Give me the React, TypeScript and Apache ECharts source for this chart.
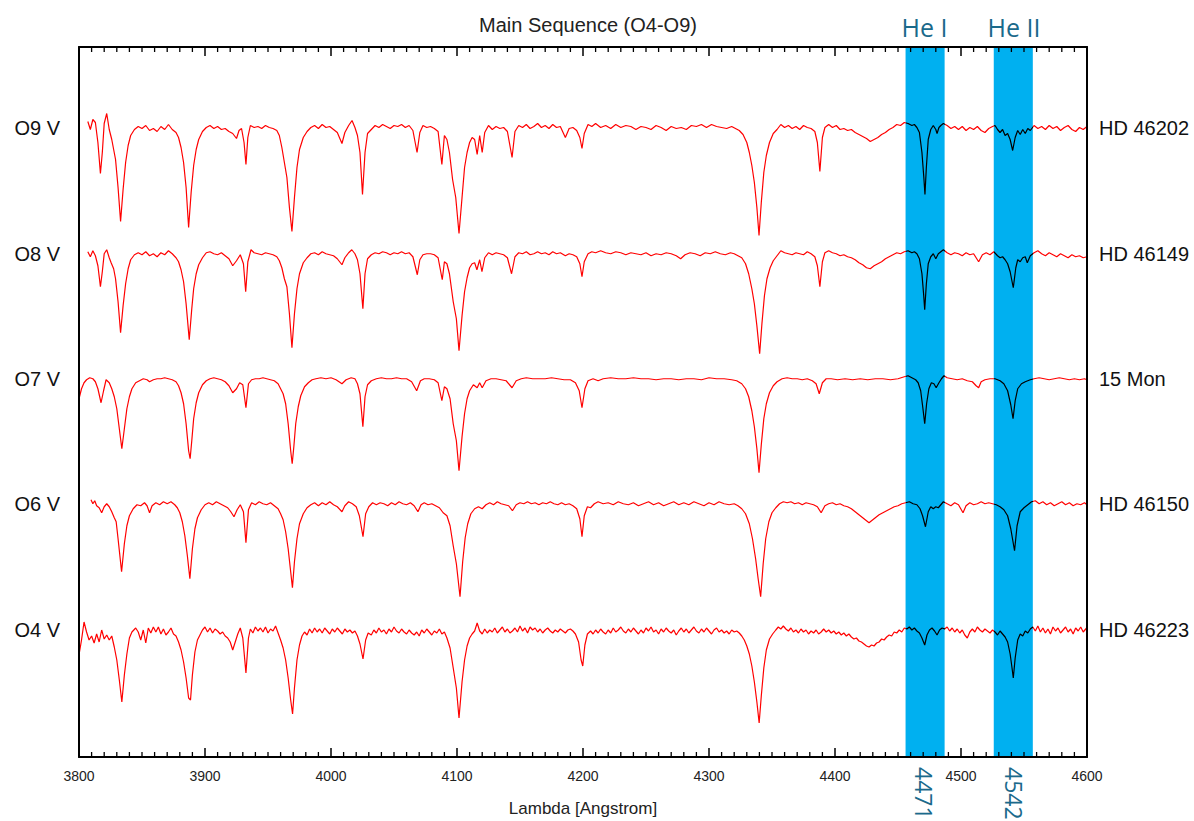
import React, { useEffect, useRef } from "react";
import * as echarts from "echarts";

// ---- axis / layout values ----
const X_MIN = 3800;
const X_MAX = 4600;
const X_STEP = 100;
const X_MINOR_STEP = 10;
const Y_MIN = 49.2;
const Y_MAX = 333.2;

// ---- spectra labels ----
const spectralClasses = ["O9 V", "O8 V", "O7 V", "O6 V", "O4 V"];
const starNames = ["HD 46202", "HD 46149", "15 Mon", "HD 46150", "HD 46223"];
// vertical offset of each normalised spectrum (flux in % of continuum)
const offsets = [201, 150.5, 100.5, 50.5, 0];

// ---- highlighted helium lines ----
const heLineNames = ["He I", "He II"];
const heLineCenters = [4471, 4542];
const heBands = [
  [4456, 4487],
  [4526, 4557],
];

// ---- normalised fluxes [wavelength (A), flux % of continuum] ----
const fluxO9: number[][] = [
  [3807,102.4],[3809,99.2],[3811,103.2],[3813,102],[3815,94],[3817,81.6],[3818.5,90],[3820,101.6],[3822,105.6],[3824,99.2],
  [3826,95.2],[3827.5,91.2],[3829,87.2],[3831,76],[3833,62.4],[3835,75.2],[3837,86],[3839,92.8],[3841,96.8],[3844,99.2],
  [3847,100.4],[3850,99.6],[3853,100.8],[3856,98.8],[3859,99.6],[3862,98.4],[3865,100.4],[3868,99.2],[3871,101.2],[3874,99.2],
  [3877,98],[3879,96],[3881,92],[3883,86],[3885,76],[3887,60],[3889,74],[3891,84.8],[3893,91.2],[3895,95.2],
  [3898,98.4],[3901,100],[3904,100.8],[3907,99.6],[3910,100.4],[3913,99.2],[3916,99.6],[3919,98.4],[3922,97.6],[3925,95.6],
  [3927,98.8],[3929,99.6],[3931,94],[3932.5,85.2],[3934,96],[3936,100.8],[3939,100],[3942,100.4],[3945,99.6],[3948,100.8],
  [3951,100],[3954,99.6],[3957,98.8],[3959,96.8],[3961,92],[3963,86],[3965,80],[3967,68],[3969,58.4],[3971,72],
  [3973,84],[3975,91.2],[3978,96],[3981,98.4],[3984,100],[3987,100.8],[3990,99.6],[3993,101.2],[3996,100],[3999,100.4],
  [4002,99.2],[4005,98],[4008.7,93.6],[4011,98],[4014,100.8],[4016.7,102.8],[4019,100],[4021,96.8],[4023,90],[4025,73.2],
  [4027,90],[4029,97.6],[4032,99.2],[4035,100.8],[4038,100],[4041,101.2],[4044,100.4],[4047,99.6],[4050,100.8],[4053,100.4],
  [4056,101.2],[4059,100],[4062,100.8],[4065,98.8],[4068.3,90],[4070.5,98],[4073,100.8],[4076,100],[4079,100.4],[4082,99.6],
  [4085,98.4],[4088,85.2],[4090,96.8],[4092,95.2],[4094,90],[4096.5,79.2],[4099,72],[4101.6,57.6],[4104,72],[4106,84],
  [4108,90],[4110,94],[4112,96],[4114,95.2],[4116,89.2],[4118,96.8],[4120,90],[4122,98],[4125,100.8],[4128,99.2],
  [4131,100.4],[4134,99.6],[4137,100],[4140,98.4],[4143.7,88],[4146,98.4],[4149,100.8],[4152,100],[4155,101.2],[4158,99.6],
  [4161,100.4],[4164,101.6],[4167,100],[4170,100.8],[4173,99.6],[4176,101.2],[4179,100],[4182,100.4],[4186,96],[4189,99.6],
  [4192,100],[4195,98.8],[4197.5,96],[4199.2,91.6],[4201,97.6],[4204,101.2],[4207,100.4],[4210,101.6],[4214,100],[4218,100.8],
  [4222,99.6],[4226,101.2],[4230,100],[4234,100.8],[4238,100.4],[4242,99.2],[4246,100.4],[4250,100],[4254,99.2],[4258,100.8],
  [4262,100],[4266,98.8],[4270,100.4],[4274,99.6],[4278,100],[4282,99.2],[4286,100.8],[4290,100.4],[4294,101.2],[4298,100],
  [4302,101.2],[4306,100.4],[4310,100],[4314,99.6],[4318,100.4],[4321,99.6],[4324,98.8],[4327,97.2],[4330,94],[4332,90],
  [4334,84.8],[4336,78],[4338,68],[4339.7,56.8],[4341.5,70],[4343.5,82],[4345.5,88.8],[4348,94],[4351,97.6],[4354,99.2],
  [4357,101.2],[4360,100],[4363,100.8],[4366,99.6],[4369,100.4],[4372,99.2],[4375,100.8],[4378,100],[4381,99.6],[4384,98.4],
  [4386,94],[4388,82.4],[4390,96],[4392,100],[4395,101.2],[4398,100],[4401,100.8],[4404,99.2],[4407,99.6],[4410,98.8],
  [4413,99.2],[4416,98],[4419,97.2],[4422,96.4],[4425,95.6],[4428,94.4],[4431,95.2],[4434,96],[4437,97.2],[4440,98],
  [4443,99.2],[4446,100],[4449,101.2],[4452,100.8],[4455,102],[4458,101.6],[4461,100.8],[4463,101.2],[4465,100],[4467,98],
  [4469,90],[4470.5,80],[4471.4,73.2],[4472.5,84],[4474,95.2],[4476,99.2],[4478,100.8],[4480,99.2],[4481,97.6],[4482.5,100],
  [4484,100.8],[4486,101.6],[4489,100.8],[4492,99.6],[4495,100.4],[4498,99.2],[4501,100.4],[4504,98.8],[4507,100],[4510,99.2],
  [4513,100.4],[4516,98.8],[4519,98],[4522,99.6],[4525,100.4],[4527,100.8],[4529,99.2],[4531,98],[4533,99.2],[4535,96.8],
  [4537,97.6],[4539,95.2],[4541,90.8],[4543,96],[4545,98.8],[4547,97.2],[4549,99.2],[4551,97.6],[4553,99.6],[4555,98.8],
  [4558,100.8],[4561,99.6],[4564,100.4],[4567,99.2],[4570,100.8],[4573,99.6],[4576,100.4],[4579,98.8],[4582,100],[4585,100.8],
  [4588,99.2],[4591,98.4],[4594,100],[4597,99.2],[4600,100.4],
];

const fluxO8: number[][] = [
  [3807,100.8],[3809,98.8],[3811,101.2],[3813,99.2],[3815,95.2],[3817,86.8],[3818.5,92.8],[3820,100],[3822,101.6],[3824,98.4],
  [3825.5,96.4],[3827.5,94],[3829,90],[3831,80.8],[3833,68.4],[3835,79.2],[3837,88],[3839,94],[3841,97.6],[3844,99.6],
  [3847,100.4],[3850,99.6],[3853,100.8],[3856,99.2],[3859,100],[3862,98.8],[3865,100.4],[3868,99.6],[3871,101.2],[3874,100],
  [3877,98.4],[3879,96.8],[3881,93.6],[3883,88.8],[3885,80],[3887.5,65.6],[3889.5,78],[3891,86],[3893,92],[3895,95.6],
  [3898,98.4],[3901,100.4],[3904,100.8],[3907,100],[3910,99.6],[3913,100.4],[3916,99.2],[3919,98],[3922,95.2],[3925,97.2],
  [3928,99.6],[3930.5,96],[3932.3,84.8],[3934,96.8],[3936.5,101.6],[3939,100.4],[3942,100],[3945,99.6],[3948,100.4],[3951,100],
  [3954,99.6],[3957,98.8],[3959,97.2],[3961,94.4],[3963,90],[3965,86.8],[3967,76],[3969,62.4],[3971,76],[3973,86],
  [3975,92],[3978,96.4],[3981,98.4],[3984,100],[3987,100.4],[3990,99.6],[3993,100.8],[3996,100],[3999,99.6],[4002,99.2],
  [4005,98],[4008.7,95.6],[4011,98.4],[4014,100.4],[4016.5,101.6],[4019,100],[4021,97.6],[4023,92],[4025.3,78],[4027,92],
  [4029,98],[4032,99.6],[4035,100.4],[4038,100],[4041,100.8],[4044,100.4],[4047,99.6],[4050,100.4],[4053,100],[4056,100.8],
  [4059,100],[4062,100.4],[4065,98.8],[4068.5,91.6],[4070.5,97.6],[4073,99.6],[4076,100],[4079,100],[4082,99.6],[4085,98.4],
  [4088.3,89.6],[4090,96.8],[4092,96],[4094,92],[4097,80.8],[4099.5,74],[4101.6,61.2],[4104,75.2],[4106,84.8],[4108,90.4],
  [4110,94.4],[4112,96],[4114,96.4],[4115.8,93.6],[4118,97.6],[4119.8,92.8],[4122,98.4],[4125,100.4],[4128,99.6],[4131,100.4],
  [4134,100],[4137,99.6],[4140,98.4],[4143.3,92],[4146,98.8],[4149,100.4],[4152,100],[4155,100.8],[4158,99.6],[4161,100],
  [4164,100.8],[4167,100],[4170,100.4],[4173,99.6],[4176,100.8],[4179,100],[4182,100.4],[4186,99.2],[4189,100],[4192,99.6],
  [4195,98.8],[4197.5,96],[4199.2,90.8],[4201,96.8],[4204,100],[4207,100.8],[4210,100.4],[4214,101.2],[4218,100.4],[4222,100],
  [4226,100.8],[4230,100.4],[4234,99.6],[4238,100.4],[4242,100],[4246,99.6],[4250,100.4],[4254,99.2],[4258,100],[4262,99.6],
  [4266,100.4],[4270,100],[4274,99.2],[4277.5,98],[4281,99.6],[4285,100.4],[4289,100],[4293,99.2],[4297,100.4],[4301,100],
  [4305,100.8],[4309,100],[4313,99.6],[4317,100.4],[4320,100],[4323,99.2],[4326,98.4],[4329,96],[4331.5,92],[4334,86],
  [4336,80],[4338,71.2],[4340.2,60],[4342,72],[4344,83.2],[4346,90],[4348.5,94.4],[4351,97.2],[4354,99.2],[4357,101.2],
  [4360,100.4],[4363,100],[4366,99.6],[4369,100.4],[4372,100],[4375,99.6],[4378,100.8],[4381,100],[4384,98.8],[4386,95.2],
  [4388,86.8],[4390,96.8],[4392,100.4],[4395,101.2],[4398,100.4],[4401,100],[4404,99.2],[4407,99.6],[4410,98.8],[4413,98.4],
  [4416,97.6],[4419,96.4],[4422,95.6],[4425,94.4],[4428,94],[4431,95.2],[4434,96],[4437,96.8],[4440,98],[4443,98.8],
  [4446,99.6],[4449,100.4],[4452,100],[4455,100.8],[4458,101.2],[4461,100.4],[4463,100.8],[4465,100],[4467,98],[4469,92],
  [4470.3,84],[4471.2,77.6],[4472.5,88],[4474,96],[4476,98.8],[4478,100],[4480,98],[4482,100],[4484,100.8],[4486,101.6],
  [4489,100.4],[4492,99.6],[4495,100.4],[4498,100],[4501,99.2],[4504,100.4],[4507,99.6],[4510,100],[4514,96.8],[4517,99.6],
  [4520,100.4],[4523,99.6],[4526,100.8],[4529,99.2],[4531,98.4],[4533,98.8],[4535,97.6],[4537,96],[4539,92.8],[4541.5,86.4],
  [4543.5,94.4],[4545,97.6],[4547,96.8],[4549,98.4],[4551,98.8],[4552.6,96.4],[4555,99.2],[4558,100.4],[4561,101.2],[4564,100],
  [4567,99.2],[4570,100.4],[4573,99.6],[4576,98.8],[4579,100],[4582,99.2],[4585,98.4],[4588,99.6],[4591,98.8],[4594,99.2],
  [4597,98.4],[4600,98.8],
];

const fluxO7: number[][] = [
  [3800,92],[3802,96],[3804,98.4],[3806,99.6],[3808.5,100.4],[3811,100],[3813,98.8],[3815,96],[3817.5,90.4],[3819.5,95.2],
  [3821.5,99.6],[3824,98.4],[3826,96],[3828,92.8],[3830,88],[3832,80],[3834,72],[3836,80],[3838,88],[3840,92.8],
  [3842,96],[3845,98.4],[3848,99.2],[3851,100],[3854,99.6],[3856,98.8],[3859,99.6],[3862,100],[3865,100],[3868,100.4],
  [3871,100],[3874,99.6],[3877,98.8],[3879,97.2],[3881,94.4],[3883,90],[3885,82],[3887,71.2],[3888.2,68],[3889.5,75.2],
  [3891,84],[3893,90.4],[3895,94.4],[3898,97.6],[3901,99.2],[3904,100],[3907,100.4],[3910,100],[3913,99.6],[3916,98.8],
  [3919,97.2],[3922,94.4],[3925,96],[3927.5,98.4],[3930,97.6],[3932.5,88.4],[3934.5,98],[3937,99.6],[3940,100],[3943,100],
  [3946,100.4],[3949,100],[3952,99.6],[3955,99.2],[3958,98],[3960,96],[3962,94],[3964,90],[3966,82],[3968,71.2],
  [3969.2,66],[3970.5,72.8],[3972,82],[3974,88.8],[3976,93.2],[3979,96.8],[3982,98.4],[3985,99.6],[3988,100],[3992,100.4],
  [3996,100],[4000,100.4],[4004,99.6],[4008.7,98],[4012,99.6],[4016,100.4],[4019,100],[4021,98],[4023,94],[4025.3,80.8],
  [4027,92.8],[4029,97.6],[4032,99.2],[4036,100],[4040,100.4],[4044,100],[4048,100],[4052,100.4],[4056,100],[4060,100],
  [4064,98.8],[4068,95.2],[4071,99.2],[4074,100],[4078,100],[4082,99.6],[4085,98.4],[4088,91.2],[4090,96.8],[4092,96],
  [4094.5,92],[4097,82],[4099.5,75.2],[4101.6,63.2],[4104,76.8],[4106,86],[4108,92],[4110,95.2],[4113,97.6],[4116,96.4],
  [4118,98.4],[4120,96.4],[4123,99.2],[4127,100],[4131,100],[4135,99.6],[4139,99.2],[4143.7,96.4],[4147,99.2],[4151,100],
  [4155,100.4],[4160,100],[4165,100],[4170,100],[4175,100.4],[4180,100],[4185,99.6],[4190,99.6],[4194,98.4],[4197,95.2],
  [4199.2,88.4],[4201.5,96],[4204,99.2],[4208,100],[4212,99.2],[4216,100],[4222,100.4],[4228,100],[4234,100],[4240,100.4],
  [4246,100],[4252,100],[4258,99.6],[4264,100],[4270,100],[4276,99.6],[4282,100],[4288,100],[4294,99.6],[4300,100.4],
  [4306,100],[4312,100],[4318,99.6],[4322,99.2],[4326,98],[4329,96],[4331.5,92.8],[4334,87.2],[4336,80.8],[4338,72],
  [4339.7,62.4],[4341.5,73.6],[4343.5,84],[4345.5,90],[4348,94.4],[4351,97.2],[4354,98.8],[4358,100],[4362,100.4],[4366,100],
  [4370,100],[4374,99.6],[4378,100],[4382,99.2],[4385,98],[4387.5,94],[4390,98.4],[4393,100],[4397,100],[4402,99.6],
  [4408,100],[4414,99.6],[4420,100],[4426,99.6],[4432,100],[4438,100],[4444,99.6],[4450,100],[4455,100.8],[4458,101.2],
  [4461,100.4],[4464,99.6],[4466,98.4],[4468,95.2],[4469.8,88],[4471.2,82],[4472.7,90],[4474.5,96],[4476.5,98.4],[4478.5,98],
  [4480.3,96.4],[4482.5,98.4],[4484.5,100],[4486.5,101.2],[4489,100.4],[4493,100],[4497,99.6],[4501,100],[4505,99.2],[4509,98.8],
  [4512,97.2],[4514,96.4],[4516,98.8],[4519,99.6],[4523,100],[4527,100],[4531,99.2],[4534,98],[4537,95.2],[4539.5,89.6],
  [4541.3,84],[4543,91.2],[4545,96],[4548,98],[4551,98.8],[4555,99.6],[4558,100],[4562,100.4],[4566,100],[4570,99.6],
  [4574,100],[4578,100.4],[4582,100],[4586,99.6],[4590,100],[4594,99.6],[4598,100],[4600,99.6],
];

const fluxO6: number[][] = [
  [3809.5,101.6],[3811,100],[3812.5,101.2],[3814,99.2],[3816,98.4],[3818,96.4],[3820,98.8],[3822,100],[3824,98.8],[3826,96.8],
  [3828,94.4],[3829.5,92.8],[3831,86],[3833.8,72.8],[3836,84],[3838,91.2],[3840,95.2],[3843,98],[3846,99.6],[3849,99.2],
  [3852,100.4],[3854,99.2],[3856,96.4],[3858,99.2],[3861,100.4],[3864,99.6],[3867,100.8],[3870,100],[3873,100.8],[3876,99.6],
  [3878,98.4],[3880,96.4],[3882,92.8],[3884,87.2],[3886,79.2],[3888,70],[3890,82],[3892,90],[3894,94.4],[3897,97.6],
  [3900,99.6],[3903,100.4],[3906,99.6],[3909,100.8],[3912,100],[3915,99.2],[3918,98.4],[3920.5,96.8],[3923,94.8],[3925.5,97.6],
  [3928,99.6],[3930.5,96.8],[3932.5,84.4],[3934.5,97.6],[3937,100.4],[3940,99.6],[3943,100.8],[3946,100],[3949,99.6],[3952,100.4],
  [3955,99.2],[3958,98],[3960,96],[3962,93.6],[3964,88.8],[3966,82],[3968,72.8],[3969.4,66.4],[3971,76.8],[3973,86],
  [3975,92],[3978,96],[3981,98.4],[3984,99.6],[3987,100.4],[3990,99.2],[3993,100.4],[3996,99.6],[3999,100.8],[4002,99.6],
  [4005,98.8],[4008.7,96.8],[4011,99.2],[4014,100.8],[4017,100],[4020,98.8],[4022.5,95.2],[4025.4,86.8],[4027.5,96],[4030,98.8],
  [4033,100.4],[4036,99.6],[4039,100.4],[4042,100],[4045,99.2],[4048,100.4],[4051,99.6],[4054,100.8],[4057,100],[4060,99.6],
  [4063,100.4],[4066,99.2],[4069,96.8],[4071.5,99.6],[4074,100.4],[4077,99.6],[4080,100],[4083,99.2],[4086,98.4],[4089,96.4],
  [4092,95.2],[4094.5,91.2],[4097,83.2],[4099.5,76],[4102.4,62.8],[4104.5,76.8],[4106.5,86.4],[4108.5,92],[4111,96],[4114,98],
  [4117,98.8],[4120,98],[4123,99.6],[4126,100.4],[4129,99.6],[4132,100.8],[4135,100],[4138,99.6],[4141,99.2],[4144,97.2],
  [4147,99.6],[4150,100.4],[4153,100],[4156,100.8],[4159,100],[4162,100.4],[4165,99.6],[4168,100.4],[4171,100],[4174,100.8],
  [4177,100],[4180,99.6],[4183,100.4],[4186,99.6],[4189,100],[4192,99.2],[4195,98],[4197.5,94],[4199.2,86.8],[4201,95.2],
  [4203.5,98.8],[4206,98.4],[4209,100],[4212,100.8],[4216,100],[4220,100.4],[4224,99.6],[4228,100.8],[4232,100],[4236,99.6],
  [4240,100.4],[4244,99.2],[4248,100],[4252,100.8],[4256,99.6],[4260,100.4],[4264,99.2],[4268,100],[4272,100.8],[4276,99.6],
  [4280,100.4],[4284,99.6],[4288,100.8],[4292,100],[4296,99.2],[4300,100.4],[4304,99.6],[4308,100.8],[4312,100],[4316,99.6],
  [4320,100],[4323,99.2],[4326,98],[4329,96],[4332,92],[4334.5,86],[4337,78],[4339,70],[4341,62.8],[4343,76],
  [4345,86],[4347.5,92.8],[4350,96.4],[4353,98.4],[4356,100],[4359,100.8],[4362,100.4],[4365,100.8],[4368,100],[4371,100.4],
  [4374,99.6],[4377,100.4],[4380,100],[4383,99.6],[4386,98.8],[4389,96.4],[4392,99.2],[4395,100],[4398,100.4],[4401,99.6],
  [4404,100],[4407,99.2],[4410,98.8],[4413,98],[4416,96.8],[4419,95.6],[4422,94.4],[4425,93.2],[4427,92.4],[4429,93.2],
  [4432,94.4],[4435,95.6],[4438,96.4],[4441,97.2],[4444,98],[4447,98.8],[4450,99.2],[4453,100],[4456,100.4],[4459,100.8],
  [4462,100],[4465,99.6],[4467.5,98],[4469.5,95.2],[4471.8,90.8],[4474,96.8],[4476,98.8],[4478,98],[4480,98.8],[4482,98.4],
  [4484,99.6],[4486,100.8],[4489,100],[4492,99.2],[4495,100.4],[4498,99.6],[4501.6,96.4],[4504,99.2],[4507,100.4],[4510,99.6],
  [4513,100],[4516,100.8],[4519,100],[4522,100.4],[4525,100],[4528,99.6],[4531,98.8],[4534,97.6],[4537,95.2],[4539.5,90],
  [4542.5,81.2],[4544.5,91.2],[4547,96.8],[4550,98.4],[4553,99.6],[4556,100.8],[4559,101.2],[4562,100],[4565,100.8],[4568,99.6],
  [4571,100.4],[4574,99.2],[4577,100],[4580,100.8],[4583,99.6],[4586,100.4],[4589,99.2],[4592,100],[4595,99.6],[4598,100.4],
  [4600,99.6],
];

const fluxO4: number[][] = [
  [3800,90],[3802,96],[3804,103.2],[3806,99.2],[3808,96],[3810,97.6],[3812,94.8],[3814,98.4],[3816,95.2],[3818,100],
  [3820,96.4],[3822,98],[3824,96],[3826,97.6],[3828,93.2],[3830,88],[3832,80],[3834,71.2],[3836,82],[3838,90.4],
  [3840,96.8],[3842,99.2],[3845,100.8],[3847,99.2],[3849,96],[3851,100],[3853,94.8],[3855,100.8],[3857,98.8],[3859,101.2],
  [3861,99.2],[3863,101.2],[3865,98.4],[3867,100.4],[3869,98],[3871,99.2],[3873,100.8],[3875,98.4],[3877,97.6],[3879,95.2],
  [3881,92],[3883,87.2],[3885,80.8],[3887,72.8],[3888.5,72],[3890,82],[3892,91.2],[3894,96],[3896,98],[3898,100],
  [3900,101.2],[3902,99.2],[3904,100.8],[3906,98.8],[3908,100.4],[3910,99.6],[3912,98.4],[3914,99.2],[3916,97.6],[3918,96.8],
  [3920,95.2],[3922,92],[3924,95.2],[3926,98.4],[3928,100.8],[3930,96.8],[3932.5,82.8],[3934.5,96.8],[3936,100.4],[3938,98.8],
  [3940,101.2],[3942,99.6],[3944,100.8],[3946,99.2],[3948,101.2],[3950,98.8],[3952,100.4],[3954,99.6],[3956,101.6],[3958,98.8],
  [3960,96],[3962,92.8],[3964,88],[3966,80.8],[3968,72],[3969.5,66.4],[3971,76.8],[3973,88],[3975,94],[3977,97.6],
  [3979,99.2],[3981,98],[3983,100.4],[3985,98.8],[3987,100.8],[3989,99.2],[3991,100.4],[3993,98.8],[3995,100.8],[3997,99.6],
  [3999,98.4],[4001,100.4],[4003,99.2],[4005,100.8],[4007,99.6],[4009,98.4],[4011,100.4],[4013,99.2],[4015,100],[4017,98.8],
  [4019,99.6],[4021,97.6],[4023,94.4],[4025.4,88.4],[4027.5,96],[4029.5,98.8],[4032,98],[4034,100],[4036,98.8],[4038,100.8],
  [4040,99.2],[4042,100],[4044,98.4],[4046,100.4],[4048,99.2],[4050,101.2],[4052,99.6],[4054,98.8],[4056,100.4],[4058,99.2],
  [4060,98.4],[4062,100],[4064,98.8],[4066,98],[4068,99.2],[4070,97.6],[4072,100],[4074,98.8],[4076,100.4],[4078,99.2],
  [4080,98],[4082,99.6],[4084,98.8],[4086,100.4],[4088,98.4],[4090,99.2],[4092,96.8],[4094.5,92.8],[4097,84.8],[4099.5,76.8],
  [4101.6,64.8],[4104,79.2],[4106,88],[4108,93.6],[4110,96.8],[4112,98.4],[4114,99.6],[4116,102.8],[4118,99.6],[4120,98.4],
  [4122,100.4],[4124,98.8],[4126,100],[4128,99.2],[4130,100.8],[4132,98.8],[4134,100],[4136,101.2],[4138,99.2],[4140,100.4],
  [4142,98.8],[4144,99.6],[4146,100.8],[4148,99.2],[4150,101.6],[4152,99.6],[4154,100.8],[4156,98.8],[4158,101.2],[4160,100],
  [4162,100.8],[4164,99.2],[4166,100.4],[4168,98.8],[4170,100],[4172,100.8],[4174,99.6],[4176,98.8],[4178,100],[4180,99.2],
  [4182,100.4],[4184,99.6],[4186,98.8],[4188,100],[4190,100.4],[4192,99.6],[4194,98.4],[4196.5,95.2],[4198.5,88],[4199.8,85.6],
  [4201.5,94],[4203.5,98.4],[4206,99.6],[4208,98.4],[4210,100],[4212,98.8],[4214,100.4],[4216,99.2],[4218,98.4],[4220,100],
  [4222,98.8],[4224,100.8],[4226,99.2],[4228,100],[4230,101.2],[4232,99.6],[4234,98.8],[4236,100.4],[4238,99.2],[4240,100.8],
  [4242,99.6],[4244,98.4],[4246,100],[4248,98.8],[4250,100.8],[4252,99.6],[4254,101.2],[4256,99.2],[4258,100],[4260,98.4],
  [4262,100.4],[4264,99.2],[4266,100.8],[4268,99.6],[4270,98.8],[4272,100],[4274,98],[4276,99.6],[4278,100.8],[4280,99.2],
  [4282,100.4],[4284,98.8],[4286,100],[4288,101.2],[4290,99.6],[4292,98.8],[4294,100.4],[4296,99.2],[4298,100.8],[4300,99.6],
  [4302,98.4],[4304,100],[4306,100.8],[4308,99.2],[4310,100],[4312,98.8],[4314,99.6],[4316,98.4],[4318,100],[4320,99.2],
  [4322,99.6],[4324,98.8],[4326,97.6],[4328,96],[4330,93.6],[4332,90.4],[4334,85.6],[4336,79.2],[4338,71.2],[4339.8,62.8],
  [4341.5,73.6],[4343.5,84.8],[4345.5,92],[4348,96.4],[4350.5,98.4],[4353,100],[4355,101.2],[4357,100.4],[4359,101.6],[4361,100.4],
  [4363,99.6],[4365,100.8],[4367,99.2],[4369,100],[4371,98.8],[4373,100.4],[4375,99.2],[4377,100],[4379,98.4],[4381,99.6],
  [4383,98.8],[4385,100],[4387,98.4],[4389,99.2],[4391,100.4],[4393,99.2],[4395,100],[4397,98.8],[4399,99.6],[4401,98.4],
  [4403,99.2],[4405,98],[4407,98.8],[4409,97.6],[4411,98.4],[4413,97.2],[4415,96.4],[4417,96.8],[4419,95.6],[4421,95.2],
  [4423,94.4],[4425,93.6],[4427,93.2],[4429,94],[4431,93.6],[4433,94.8],[4435,95.2],[4437,96.4],[4439,96],[4441,97.2],
  [4443,98],[4445,97.6],[4447,99.2],[4449,98.8],[4451,100],[4453,99.2],[4455,100.8],[4457,100.4],[4459,101.2],[4461,100],
  [4463,100.8],[4465,99.6],[4467,98.8],[4469,96.8],[4471.2,94],[4473,98],[4475,100],[4477,100.8],[4479,99.6],[4481,98],
  [4483,100],[4485,100.8],[4487,100.4],[4489,101.2],[4491,99.6],[4493,100.8],[4495,99.2],[4497,100.4],[4499,98.8],[4501,100],
  [4503,98],[4505,96.8],[4507,99.2],[4509,100.4],[4511,99.2],[4513,101.2],[4515,100],[4517,99.2],[4519,100.4],[4521,99.6],
  [4523,98.8],[4525,100],[4527,99.2],[4529,98],[4531,99.6],[4533,98.4],[4535,97.2],[4537,95.2],[4539,90.4],[4540.5,84.8],
  [4541.5,80.8],[4543,88.8],[4545,96],[4547,98.4],[4549,97.6],[4551,99.6],[4553,98.8],[4555,100.4],[4557,101.2],[4559,99.6],
  [4561,101.6],[4563,99.2],[4565,100.8],[4567,98.8],[4569,100.4],[4571,98.4],[4573,101.2],[4575,99.6],[4577,100.8],[4579,98.8],
  [4581,100],[4583,101.2],[4585,99.2],[4587,100.4],[4589,98.4],[4591,100.8],[4593,99.6],[4595,101.2],[4597,99.2],[4599,100.4],
  [4600,101.2],
];

const spectra = [fluxO9, fluxO8, fluxO7, fluxO6, fluxO4];

// tick positions along the wavelength axis (every 10 A, major every 100 A)
const tickValues: number[] = [];
for (let v = X_MIN; v <= X_MAX; v += X_MINOR_STEP) tickValues.push(v);

const FONT = "Arial, 'Liberation Sans', sans-serif";
const TEAL = "#1B6A8B";
const BAND = "#00B0F0";

function labelFor(value: number, names: string[]): string {
  for (let i = 0; i < offsets.length; i++) {
    if (Math.abs(offsets[i] + 100 - value) < 0.01) return names[i];
  }
  return "";
}

export default function App() {
  const ref = useRef<HTMLDivElement>(null);

  useEffect(() => {
    if (!ref.current) return;
    const chart = echarts.init(ref.current, undefined, { renderer: "svg" });
    const continuumLevels = offsets.map((o) => o + 100);

    const baseX = {
      type: "value" as const,
      min: X_MIN,
      max: X_MAX,
      interval: X_STEP,
      splitLine: { show: false },
    };

    const spectrumSeries = spectra.map((s, i) => ({
      name: spectralClasses[i],
      type: "line",
      xAxisIndex: 0,
      yAxisIndex: 0,
      data: s.map((p) => [p[0], p[1] + offsets[i]]),
      showSymbol: false,
      symbol: "none",
      lineStyle: { width: 1.2 },
      z: 4,
      silent: true,
    }));

    const tickSeries = {
      name: "ticks",
      type: "custom",
      xAxisIndex: 0,
      yAxisIndex: 0,
      silent: true,
      clip: false,
      z: 10,
      data: tickValues.map((v) => [v, Y_MIN]),
      encode: { x: 0, y: 1 },
      renderItem: (params: any, api: any) => {
        const v = api.value(0);
        const isMajor = Math.abs(v % X_STEP) < 1e-6;
        const len = isMajor ? 9 : 5;
        const lw = isMajor ? 1.5 : 1.3;
        const pb = api.coord([v, Y_MIN]);
        const pt = api.coord([v, Y_MAX]);
        return {
          type: "group",
          children: [
            {
              type: "line",
              shape: { x1: pb[0], y1: pb[1], x2: pb[0], y2: pb[1] - len },
              style: { stroke: "#000", lineWidth: lw },
            },
            {
              type: "line",
              shape: { x1: pt[0], y1: pt[1], x2: pt[0], y2: pt[1] + len },
              style: { stroke: "#000", lineWidth: lw },
            },
          ],
        };
      },
    };

    chart.setOption({
      animation: false,
      textStyle: { fontFamily: FONT },
      title: {
        text: "Main Sequence (O4-O9)",
        left: 583,
        top: 10,
        textAlign: "center",
        textStyle: { fontSize: 20, fontWeight: "normal", color: "#222", fontFamily: FONT },
      },
      grid: {
        left: 79,
        right: 107,
        top: 47,
        bottom: 64,
        containLabel: false,
        outerBoundsMode: "none",
      },
      visualMap: {
        type: "piecewise",
        show: false,
        dimension: 0,
        seriesIndex: [0, 1, 2, 3, 4],
        pieces: heBands.map((b) => ({ gte: b[0], lte: b[1], color: "#000000" })),
        outOfRange: { color: "#FF0000" },
      },
      xAxis: [
        {
          ...baseX,
          position: "bottom",
          z: 10,
          axisLine: { show: true, onZero: false, lineStyle: { color: "#000", width: 2 } },
          axisTick: { show: false },
          axisLabel: {
            fontSize: 14,
            color: "#222",
            margin: 12,
            fontFamily: FONT,
            formatter: (v: number) => String(v),
          },
          name: "Lambda [Angstrom]",
          nameLocation: "middle",
          nameGap: 43,
          nameTextStyle: { fontSize: 17, color: "#222", fontFamily: FONT },
        },
        {
          ...baseX,
          position: "top",
          z: 10,
          axisLine: { show: true, onZero: false, lineStyle: { color: "#000", width: 2 } },
          axisTick: { show: false },
          axisLabel: { show: false },
        },
        {
          ...baseX,
          position: "bottom",
          z: 11,
          axisLine: { show: false, onZero: false },
          axisTick: { show: false },
          axisLabel: {
            customValues: heLineCenters,
            formatter: (v: number) => String(v),
            rotate: -90,
            margin: 10,
            fontSize: 23,
            color: TEAL,
            fontFamily: "'Open Sans', sans-serif",
          },
        },
        {
          ...baseX,
          position: "top",
          z: 11,
          axisLine: { show: false, onZero: false },
          axisTick: { show: false },
          axisLabel: {
            customValues: heLineCenters,
            formatter: (v: number) => heLineNames[heLineCenters.indexOf(v)] ?? "",
            margin: 8,
            fontSize: 25,
            color: TEAL,
            fontFamily: "'Open Sans', sans-serif",
          },
        },
      ],
      yAxis: [
        {
          type: "value",
          min: Y_MIN,
          max: Y_MAX,
          position: "left",
          z: 10,
          axisLine: { show: true, onZero: false, lineStyle: { color: "#000", width: 2 } },
          axisTick: { show: false },
          splitLine: { show: false },
          axisLabel: {
            customValues: continuumLevels,
            formatter: (v: number) => labelFor(v, spectralClasses),
            margin: 19,
            fontSize: 20,
            color: "#111",
            fontFamily: FONT,
          },
        },
        {
          type: "value",
          min: Y_MIN,
          max: Y_MAX,
          position: "right",
          z: 10,
          axisLine: { show: true, onZero: false, lineStyle: { color: "#000", width: 2 } },
          axisTick: { show: false },
          splitLine: { show: false },
          axisLabel: {
            customValues: continuumLevels,
            formatter: (v: number) => labelFor(v, starNames),
            margin: 12,
            fontSize: 20,
            color: "#111",
            fontFamily: FONT,
          },
        },
      ],
      series: [
        ...spectrumSeries,
        {
          name: "He bands",
          type: "line",
          xAxisIndex: 0,
          yAxisIndex: 0,
          data: [],
          z: 1,
          silent: true,
          markArea: {
            silent: true,
            itemStyle: { color: BAND, opacity: 1 },
            label: { show: false },
            data: heBands.map((b) => [{ xAxis: b[0] }, { xAxis: b[1] }]),
          },
        },
        tickSeries,
      ],
    });

    return () => chart.dispose();
  }, []);

  return (
    <div
      ref={ref}
      style={{ position: "absolute", left: 0, top: 0, width: 1194, height: 821 }}
    />
  );
}
